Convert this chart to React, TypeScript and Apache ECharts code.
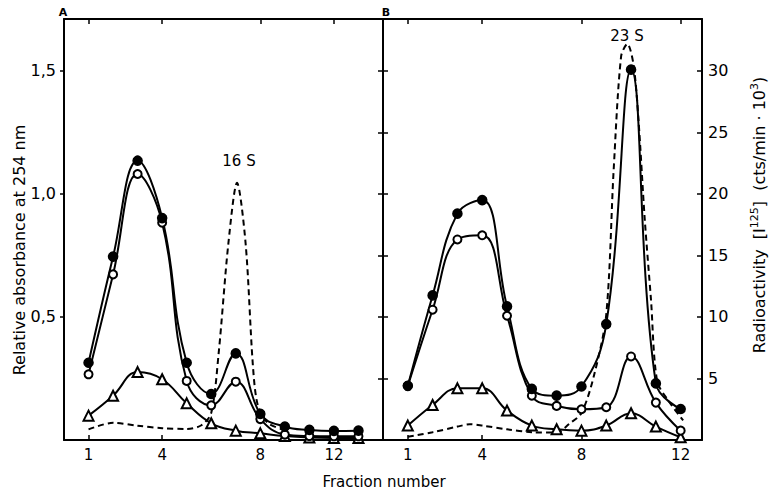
import React, { useEffect, useRef } from 'react';
import * as echarts from 'echarts';

// Fraction positions (shared by both panels)
const fractions = [1, 2, 3, 4, 5, 6, 7, 8, 9, 10, 11, 12];

// Panel A (relative absorbance at 254 nm)
const aFilled = [0.314, 0.745, 1.135, 0.902, 0.314, 0.187, 0.352, 0.106, 0.054, 0.041, 0.037, 0.038];
const aOpen = [0.267, 0.673, 1.081, 0.883, 0.24, 0.141, 0.237, 0.085, 0.022, 0.016, 0.015, 0.015];
const aTriangle = [0.099, 0.18, 0.276, 0.247, 0.149, 0.068, 0.038, 0.027, 0.016, 0.01, 0.008, 0.008];
const aDashX = [1, 2, 3, 4, 5, 5.6, 6, 6.3, 6.7, 7.05, 7.4, 7.7, 7.9, 8.3, 9];
const aDashY = [0.043, 0.07, 0.058, 0.048, 0.045, 0.06, 0.11, 0.35, 0.8, 1.045, 0.8, 0.3, 0.14, 0.07, 0.04];

// Panel B (radioactivity, cts/min x 10^3)
const bFilled = [4.4, 11.75, 18.4, 19.5, 10.86, 4.15, 3.6, 4.35, 9.42, 30.1, 4.6, 2.52];
const bOpen = [4.4, 10.59, 16.3, 16.64, 10.1, 3.6, 2.77, 2.5, 2.66, 6.79, 3.04, 0.76];
const bTriangle = [1.17, 2.85, 4.2, 4.2, 2.39, 1.17, 0.87, 0.76, 1.17, 2.17, 1.09, 0.22];
const bDashX = [1, 2, 3, 3.5, 4, 5, 6, 7, 7.5, 8, 8.5, 9, 9.3, 9.6, 9.85, 10.1, 10.3, 10.55, 10.8, 11.05, 11.5, 12.1];
const bDashY = [0.27, 0.63, 1.09, 1.28, 1.17, 0.87, 0.63, 0.6, 1.3, 2.2, 5.2, 10.2, 22, 31.2, 32.2, 30.5, 26, 18, 11.5, 4.8, 3.2, 1.6];

// Axis ticks / labels
const absTickValues = [0.5, 1.0, 1.5];
const absTickLabels = ['0,5', '1,0', '1,5'];
const radTickValues = [5, 10, 15, 20, 25, 30];
const radTickLabels = ['5', '10', '15', '20', '25', '30'];
const fracTickPosA = [1, 4, 8, 11];
const fracTickPosB = [1, 4, 8, 12];
const fracTickLabels = ['1', '4', '8', '12'];

const ABS_MAX = 1.711;
const RAD_MAX = 34.22;

const pairs = (xs: number[], ys: number[]) => xs.map((x, i) => [x, ys[i]]);

export default function App() {
  const ref = useRef<HTMLDivElement>(null);

  useEffect(() => {
    const chart = echarts.init(ref.current!, null, { renderer: 'svg' });
    const font = 'DejaVu Sans';
    const ink = '#000';
    const axisLine = { show: true, onZero: false, lineStyle: { color: ink, width: 2 } };
    const noSplit = { show: false };

    const xAxisBase = (grid: number, pos: 'top' | 'bottom', max: number, tickPos: number[], showLabels: boolean) => ({
      type: 'value',
      gridIndex: grid,
      position: pos,
      min: 0,
      max,
      axisLine,
      splitLine: noSplit,
      axisTick: { show: true, inside: true, length: 5, customValues: tickPos, lineStyle: { color: ink, width: 1.5 } },
      axisLabel: showLabels
        ? {
            show: true,
            customValues: tickPos,
            margin: 7,
            color: ink,
            fontFamily: font,
            fontSize: 15,
            formatter: (v: number) => fracTickLabels[tickPos.indexOf(Math.round(v))] ?? '',
          }
        : { show: false },
    });

    const lineBase = {
      type: 'line',
      smooth: 0.42,
      lineStyle: { color: ink, width: 2 },
      itemStyle: { color: ink, borderColor: ink, borderWidth: 1.6 },
      emphasis: { disabled: true },
    };

    const seriesFor = (xi: number, yi: number, filled: number[], open: number[], tri: number[], dx: number[], dy: number[]) => [
      {
        ...lineBase,
        smooth: 0.3,
        xAxisIndex: xi,
        yAxisIndex: yi,
        symbol: 'none',
        lineStyle: { color: ink, width: 2, type: [6, 4] },
        data: pairs(dx, dy),
      },
      { ...lineBase, xAxisIndex: xi, yAxisIndex: yi, symbol: 'emptyTriangle', symbolSize: 10, data: pairs(fractions, tri) },
      { ...lineBase, xAxisIndex: xi, yAxisIndex: yi, symbol: 'emptyCircle', symbolSize: 8, data: pairs(fractions, open) },
      { ...lineBase, xAxisIndex: xi, yAxisIndex: yi, symbol: 'circle', symbolSize: 9, data: pairs(fractions, filled) },
    ];

    const textStyle = (text: string, size: number, extra: any = {}) => ({
      text,
      fontFamily: font,
      fontSize: size,
      fill: ink,
      textAlign: 'center',
      textVerticalAlign: 'middle',
      ...extra,
    });

    chart.setOption({
      animation: false,
      backgroundColor: '#fff',
      grid: [
        { left: 64, top: 19, width: 319, height: 421 },
        { left: 383, top: 19, width: 319, height: 421 },
      ],
      xAxis: [
        xAxisBase(0, 'bottom', 13, fracTickPosA, true),
        xAxisBase(0, 'top', 13, fracTickPosA, false),
        xAxisBase(1, 'bottom', 12.86, fracTickPosB, true),
        xAxisBase(1, 'top', 12.86, fracTickPosB, false),
      ],
      yAxis: [
        {
          type: 'value',
          gridIndex: 0,
          position: 'left',
          min: 0,
          max: ABS_MAX,
          axisLine,
          splitLine: noSplit,
          axisTick: { show: true, inside: false, length: 4, customValues: absTickValues, lineStyle: { color: ink, width: 1.5 } },
          axisLabel: {
            show: true,
            customValues: absTickValues,
            margin: 8,
            color: ink,
            fontFamily: font,
            fontSize: 16,
            formatter: (v: number) => absTickLabels[absTickValues.findIndex((t) => Math.abs(t - v) < 1e-6)] ?? '',
          },
        },
        {
          type: 'value',
          gridIndex: 0,
          position: 'right',
          min: 0,
          max: RAD_MAX,
          axisLine,
          splitLine: noSplit,
          axisTick: { show: true, inside: true, length: 5, customValues: radTickValues, lineStyle: { color: ink, width: 1.5 } },
          axisLabel: { show: false },
        },
        {
          type: 'value',
          gridIndex: 1,
          position: 'left',
          min: 0,
          max: RAD_MAX,
          axisLine,
          splitLine: noSplit,
          axisTick: { show: true, inside: true, length: 5, customValues: radTickValues, lineStyle: { color: ink, width: 1.5 } },
          axisLabel: { show: false },
        },
        {
          type: 'value',
          gridIndex: 1,
          position: 'right',
          min: 0,
          max: RAD_MAX,
          axisLine,
          splitLine: noSplit,
          axisTick: { show: true, inside: true, length: 5, customValues: radTickValues, lineStyle: { color: ink, width: 1.5 } },
          axisLabel: {
            show: true,
            customValues: radTickValues,
            margin: 6,
            color: ink,
            fontFamily: font,
            fontSize: 16,
            formatter: (v: number) => radTickLabels[radTickValues.indexOf(Math.round(v))] ?? '',
          },
        },
      ],
      series: [
        ...seriesFor(0, 0, aFilled, aOpen, aTriangle, aDashX, aDashY),
        ...seriesFor(2, 2, bFilled, bOpen, bTriangle, bDashX, bDashY),
      ],
      graphic: [
        { type: 'text', x: 63, y: 12, style: textStyle('A', 11, { fontWeight: 'bold' }) },
        { type: 'text', x: 386, y: 12, style: textStyle('B', 11, { fontWeight: 'bold' }) },
        { type: 'text', x: 239, y: 161, style: textStyle('16 S', 15) },
        { type: 'text', x: 627, y: 36, style: textStyle('23 S', 15) },
        { type: 'text', x: 384, y: 482, style: textStyle('Fraction number', 15) },
        {
          type: 'text',
          x: 19,
          y: 250,
          rotation: Math.PI / 2,
          style: textStyle('Relative absorbance at 254 nm', 16),
        },
        {
          type: 'text',
          x: 758,
          y: 215,
          rotation: Math.PI / 2,
          style: {
            text: '{n|Radioactivity  [I}{s|125}{n|]  (cts/min · 10}{s|3}{n|)}',
            fontFamily: font,
            fill: ink,
            textAlign: 'center',
            textVerticalAlign: 'middle',
            rich: {
              n: { fontFamily: font, fontSize: 16, fill: ink, lineHeight: 19, verticalAlign: 'bottom' },
              s: { fontFamily: font, fontSize: 11, fill: ink, lineHeight: 19, verticalAlign: 'top' },
            },
          },
        },
      ],
    });

    return () => chart.dispose();
  }, []);

  return <div ref={ref} style={{ position: 'absolute', left: 0, top: 0, width: 769, height: 495 }} />;
}
